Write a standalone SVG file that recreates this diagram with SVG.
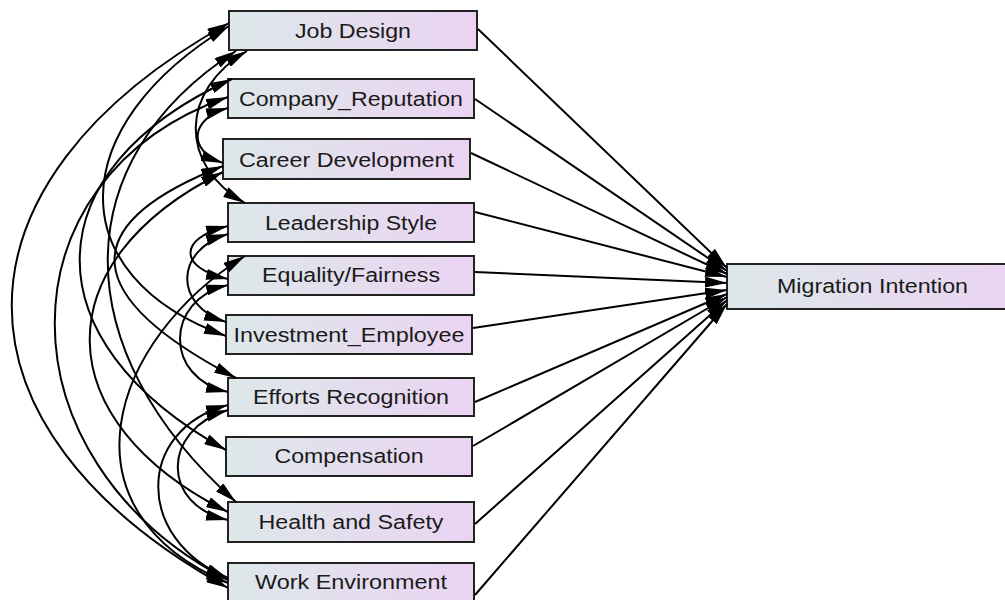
<svg xmlns="http://www.w3.org/2000/svg" width="1005" height="600" viewBox="0 0 1005 600">
  <defs>
    <linearGradient id="boxFill" x1="0" y1="0" x2="1" y2="0">
      <stop offset="0" stop-color="#dde8ea"/>
      <stop offset="1" stop-color="#ebd3f2"/>
    </linearGradient>
    <marker id="head" viewBox="0 0 22 11" refX="22" refY="5.5" markerWidth="22" markerHeight="11" markerUnits="userSpaceOnUse" orient="auto-start-reverse">
      <path d="M0,0 L22,5.5 L0,11 z" fill="#000"/>
    </marker>
    <style>
      .box { fill: url(#boxFill); stroke: #222; stroke-width: 2; }
      .lbl { font-family: "Liberation Sans", Arial, sans-serif; font-size: 19.5px; fill: #1a1a1a; text-anchor: middle; }
      .path { fill: none; stroke: #000; stroke-width: 2; marker-end: url(#head); }
      .cov { fill: none; stroke: #000; stroke-width: 2; marker-start: url(#head); marker-end: url(#head); }
    </style>
  </defs>

  <rect width="1005" height="600" fill="#fff"/>

  <!-- observed variables -->
  <g id="job-design">
    <rect class="box" x="229" y="11" width="248" height="39"/>
    <text class="lbl" x="353" y="37.5" textLength="116" lengthAdjust="spacingAndGlyphs">Job Design</text>
  </g>
  <g id="company-reputation">
    <rect class="box" x="228" y="79" width="246" height="39"/>
    <text class="lbl" x="351" y="105.5" textLength="224" lengthAdjust="spacingAndGlyphs">Company_Reputation</text>
  </g>
  <g id="career-development">
    <rect class="box" x="223" y="139" width="247" height="40"/>
    <text class="lbl" x="346.5" y="166.5" textLength="215" lengthAdjust="spacingAndGlyphs">Career Development</text>
  </g>
  <g id="leadership-style">
    <rect class="box" x="228" y="203" width="246" height="39"/>
    <text class="lbl" x="351" y="229.5" textLength="172" lengthAdjust="spacingAndGlyphs">Leadership Style</text>
  </g>
  <g id="equality-fairness">
    <rect class="box" x="228" y="256" width="246" height="39"/>
    <text class="lbl" x="351" y="282" textLength="178" lengthAdjust="spacingAndGlyphs">Equality/Fairness</text>
  </g>
  <g id="investment-employee">
    <rect class="box" x="226" y="315" width="246" height="39"/>
    <text class="lbl" x="349" y="341.5" textLength="231" lengthAdjust="spacingAndGlyphs">Investment_Employee</text>
  </g>
  <g id="efforts-recognition">
    <rect class="box" x="228" y="378" width="246" height="38"/>
    <text class="lbl" x="351" y="403.5" textLength="196" lengthAdjust="spacingAndGlyphs">Efforts Recognition</text>
  </g>
  <g id="compensation">
    <rect class="box" x="226" y="437" width="246" height="39"/>
    <text class="lbl" x="349" y="463" textLength="149" lengthAdjust="spacingAndGlyphs">Compensation</text>
  </g>
  <g id="health-safety">
    <rect class="box" x="228" y="502" width="246" height="40"/>
    <text class="lbl" x="351" y="529" textLength="185" lengthAdjust="spacingAndGlyphs">Health and Safety</text>
  </g>
  <g id="work-environment">
    <rect class="box" x="228" y="563" width="246" height="39"/>
    <text class="lbl" x="351" y="589" textLength="192" lengthAdjust="spacingAndGlyphs">Work Environment</text>
  </g>
  <g id="migration-intention">
    <rect class="box" x="727" y="264" width="292" height="45"/>
    <text class="lbl" x="872.5" y="293" textLength="191" lengthAdjust="spacingAndGlyphs">Migration Intention</text>
  </g>

  <g id="connectors">
    <!-- regression paths into Migration Intention -->
    <path class="path" d="M478,29 L727,268"/>
    <path class="path" d="M475,99 L727,271"/>
    <path class="path" d="M471,153 L727,274"/>
    <path class="path" d="M475,212 L727,277"/>
    <path class="path" d="M475,272 L727,283"/>
    <path class="path" d="M473,328 L727,290"/>
    <path class="path" d="M475,402 L727,294"/>
    <path class="path" d="M473,446 L727,297"/>
    <path class="path" d="M475,524 L727,300"/>
    <path class="path" d="M475,595 L727,304"/>

    <!-- covariances between the predictors -->
    <path class="cov" d="M229,23 C-60,183 -61,428 228,588"/>
    <path class="cov" d="M229,26 C63,126 60,276 226,336"/>
    <path class="cov" d="M247,51 C180,90 178,165 245,203"/>
    <path class="cov" d="M236,51 C65,161 65,350 236,502"/>
    <path class="cov" d="M228,108 C191,118 186,150 223,163"/>
    <path class="cov" d="M228,97 C-3,177 -3,460 228,580"/>
    <path class="cov" d="M232,79 C33,169 27,340 226,450"/>
    <path class="cov" d="M223,166 C70,226 83,298 236,378"/>
    <path class="cov" d="M223,172 C42,262 47,422 228,512"/>
    <path class="cov" d="M228,226 C178,238 178,268 228,279"/>
    <path class="cov" d="M228,234 C175,250 173,305 226,322"/>
    <path class="cov" d="M228,285 C164,300 164,378 228,392"/>
    <path class="cov" d="M245,256 C110,340 55,510 228,583"/>
    <path class="cov" d="M228,405 C135,430 135,540 228,578"/>
    <path class="cov" d="M228,410 C161,430 161,505 228,520"/>
  </g>
</svg>
